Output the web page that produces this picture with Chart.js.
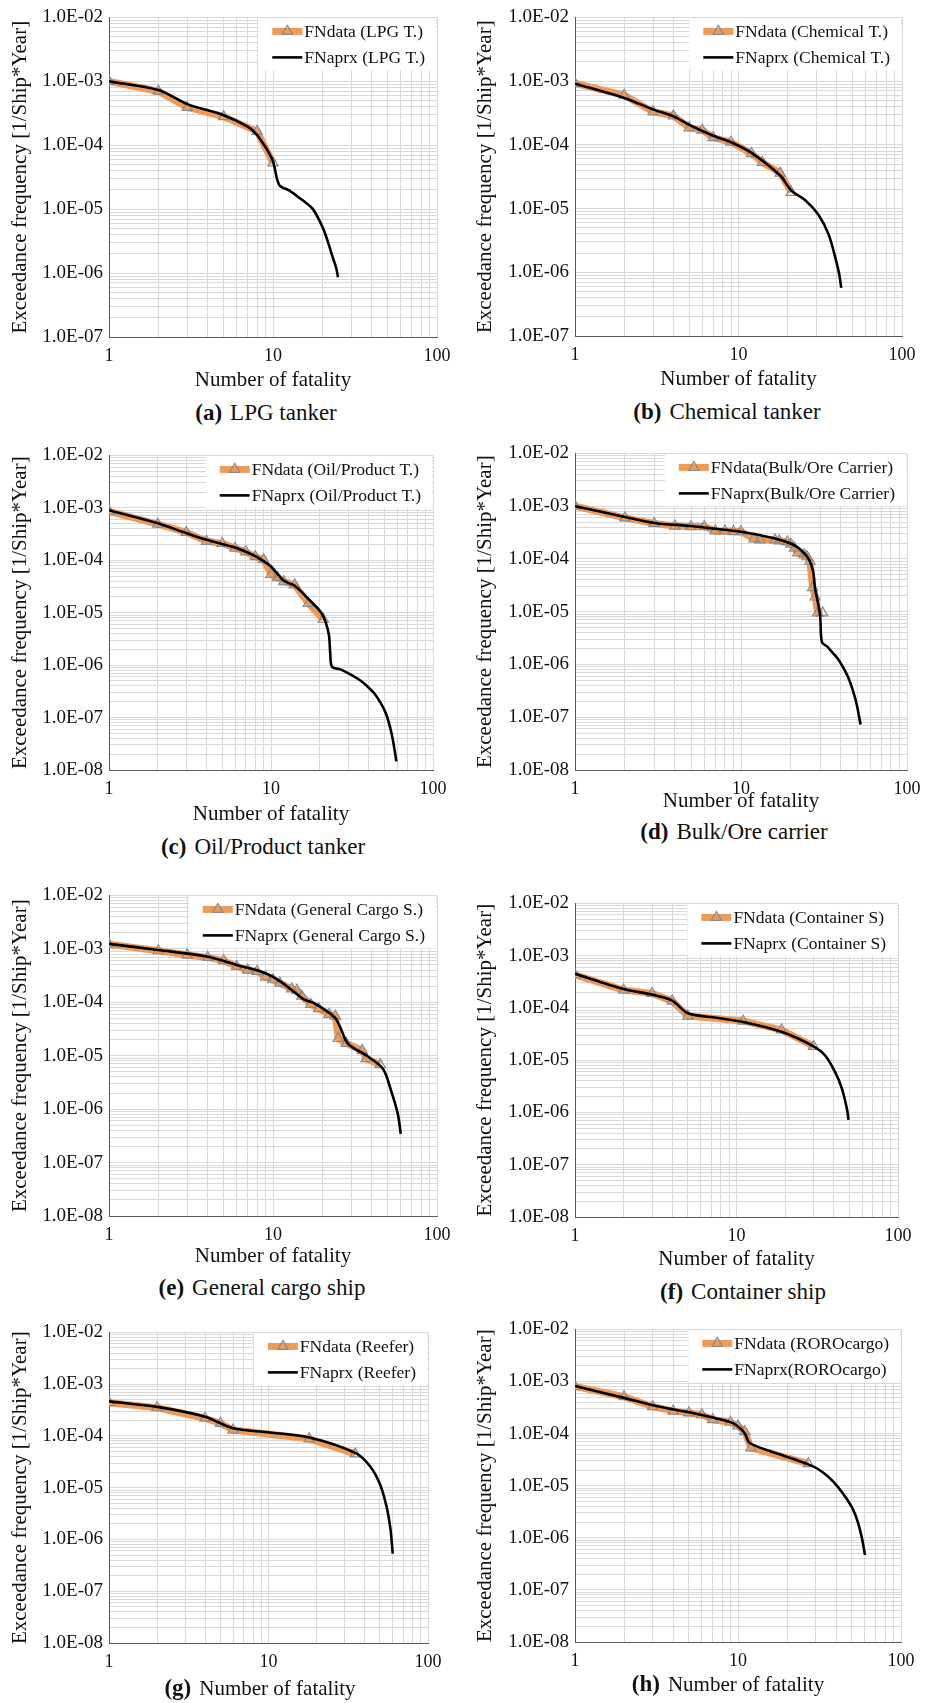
<!DOCTYPE html>
<html>
<head>
<meta charset="utf-8">
<script src="https://cdn.jsdelivr.net/npm/chart.js@4.4.1/dist/chart.umd.min.js"></script>
<style>
  body { margin: 0; background: #fff; }
  #page { position: relative; width: 931px; height: 1703px; overflow: hidden;
          font-family: "Liberation Serif", "Times New Roman", serif; color: #111; }
  #page canvas { position: absolute; }
  .caption { position: absolute; transform: translate(-50%, -50%); white-space: nowrap; font-size: 23px; }
  .caption b { margin-right: 8px; }
  .caption.axis { font-size: 21px; }
  .caption.axis b { font-size: 23px; }
</style>
</head>
<body>
<div id="page"></div>
<script>
const FONT = '"Liberation Serif", "Times New Roman", serif'
const ORANGE = '#EF9A56'

// (a) LPG tanker
const lpgN = [1, 2, 3, 5, 8, 10]
const lpgF = [1.0e-3, 7.0e-4, 3.9e-4, 2.8e-4, 1.65e-4, 5.3e-5]
const lpgAprxN = [1, 2, 3, 5, 7, 8, 9.9, 10.9, 12.6, 14.5, 17.5, 20.2, 21.6, 23.2, 24.3, 24.9]
const lpgAprxF = [1.0e-3, 7.3e-4, 4.4e-4, 2.95e-4, 1.95e-4, 1.45e-4, 6.0e-5, 2.4e-5, 1.95e-5, 1.5e-5, 1.0e-5, 5.0e-6, 3.1e-6, 1.72e-6, 1.2e-6, 8.6e-7]

// (b) Chemical tanker
const chemN = [1, 2, 3, 4, 5, 6, 7, 9, 12, 14, 18, 21]
const chemF = [9.2e-4, 6.0e-4, 3.3e-4, 2.85e-4, 1.85e-4, 1.7e-4, 1.3e-4, 1.1e-4, 7.3e-5, 5.3e-5, 3.6e-5, 1.8e-5]
const chemAprxN = [1, 2, 3, 4, 5, 7, 9, 12, 18, 21, 25.6, 30.9, 35.6, 39.1, 41.3, 42.5]
const chemAprxF = [9.1e-4, 5.45e-4, 3.6e-4, 2.8e-4, 2.06e-4, 1.39e-4, 1.1e-4, 7.5e-5, 3.3e-5, 1.92e-5, 1.35e-5, 7.9e-6, 3.9e-6, 1.7e-6, 9.3e-7, 5.7e-7]

// (c) Oil/Product tanker
const oilN = [1, 2, 3, 4, 5, 6, 7, 8, 9, 10, 11, 12, 14, 17, 21]
const oilF = [8.6e-4, 4.9e-4, 3.4e-4, 2.3e-4, 2.1e-4, 1.7e-4, 1.45e-4, 1.17e-4, 1.03e-4, 5.4e-5, 4.7e-5, 3.9e-5, 3.4e-5, 1.5e-5, 7.5e-6]
const oilAprxN = [1, 2, 3, 4, 6, 8, 9, 10, 12, 14, 17, 20.6, 22.7, 23.2, 23.8, 26.8, 30.9, 35.6, 39.1, 43, 47.3, 50.8, 53.3, 55.8, 57.7, 59.4]
const oilAprxF = [9.0e-4, 5.06e-4, 3.3e-4, 2.46e-4, 1.75e-4, 1.2e-4, 9.6e-5, 7.6e-5, 4.06e-5, 3.27e-5, 1.84e-5, 9.6e-6, 4.0e-6, 1.7e-6, 9.3e-7, 8.3e-7, 6.65e-7, 5.1e-7, 4.0e-7, 3.0e-7, 1.95e-7, 1.27e-7, 8.2e-8, 4.6e-8, 2.6e-8, 1.46e-8]

// (d) Bulk/Ore carrier
const bulkN = [1, 2, 3, 4, 5, 6, 7, 8, 9, 10, 12, 13, 16, 17, 19, 20, 21, 22, 24, 25, 26, 27, 28, 29, 31]
const bulkF = [1.0e-3, 6.0e-4, 4.7e-4, 4.2e-4, 4.1e-4, 4.1e-4, 3.4e-4, 3.4e-4, 3.3e-4, 3.3e-4, 2.4e-4, 2.3e-4, 2.3e-4, 2.2e-4, 2.1e-4, 1.9e-4, 1.6e-4, 1.3e-4, 1.2e-4, 1.1e-4, 9.0e-5, 2.85e-5, 1.9e-5, 9.5e-6, 9.5e-6]
const bulkAprxN = [1, 2, 3, 5, 10, 15.8, 20.4, 22.9, 25.7, 27.2, 27.9, 29.9, 30.7, 33.2, 35.7, 38.2, 41, 44, 47.1, 49.8, 52.5]
const bulkAprxF = [1.0e-3, 6.25e-4, 4.8e-4, 4.2e-4, 3.27e-4, 2.46e-4, 1.9e-4, 1.49e-4, 9.7e-5, 5.8e-5, 2.85e-5, 9.0e-6, 2.67e-6, 2.15e-6, 1.66e-6, 1.3e-6, 9.1e-7, 5.9e-7, 3.3e-7, 1.74e-7, 7.3e-8]

// (e) General cargo ship
const genN = [1, 2, 3, 4, 5, 6, 7, 8, 9, 10, 11, 13, 14, 15, 17, 19, 22, 24, 25, 28, 35, 37, 45]
const genF = [1.22e-3, 9.2e-4, 7.65e-4, 6.9e-4, 6.0e-4, 4.7e-4, 4.0e-4, 3.8e-4, 2.96e-4, 2.64e-4, 2.29e-4, 1.78e-4, 1.68e-4, 1.3e-4, 9.1e-5, 7.6e-5, 5.95e-5, 5.5e-5, 2.1e-5, 1.7e-5, 1.25e-5, 8.8e-6, 6.8e-6]
const genAprxN = [1, 2, 4, 6, 9, 11.3, 15.4, 17.6, 23.8, 25.5, 28.7, 37.1, 46.8, 52.7, 57.8, 60.1]
const genAprxF = [1.24e-3, 9.5e-4, 7.1e-4, 5.0e-4, 3.5e-4, 2.36e-4, 1.13e-4, 9.8e-5, 5.2e-5, 3.6e-5, 1.66e-5, 1.01e-5, 5.7e-6, 2.12e-6, 7.9e-7, 3.45e-7]

// (f) Container ship
const contN = [1, 2, 3, 4, 5, 11, 19, 30]
const contF = [4.3e-4, 2.2e-4, 1.9e-4, 1.35e-4, 7.0e-5, 5.6e-5, 3.8e-5, 1.84e-5]
const contAprxN = [1, 2, 3, 4, 5, 7.5, 11, 19, 30, 35.4, 40.8, 44.9, 48.2, 49.4]
const contAprxF = [4.5e-4, 2.3e-4, 1.8e-4, 1.38e-4, 7.9e-5, 6.5e-5, 5.4e-5, 3.5e-5, 1.84e-5, 1.23e-5, 5.9e-6, 2.9e-6, 1.2e-6, 7.2e-7]

// (g) Reefer
const reefN = [1, 2, 4, 5, 6, 18, 35]
const reefF = [4.4e-4, 3.5e-4, 2.2e-4, 1.75e-4, 1.3e-4, 8.8e-5, 4.5e-5]
const reefAprxN = [1, 2, 4, 6, 9.8, 18, 35, 43.3, 50, 55.1, 58.3, 60.1]
const reefAprxF = [4.66e-4, 3.64e-4, 2.35e-4, 1.41e-4, 1.18e-4, 9.35e-5, 4.7e-5, 2.6e-5, 1.17e-5, 4.2e-6, 1.5e-6, 5.3e-7]

// (h) RORO cargo
const roroN = [1, 2, 3, 4, 5, 6, 7, 9, 10, 11, 12, 27]
const roroF = [8.0e-4, 5.1e-4, 3.3e-4, 2.7e-4, 2.5e-4, 2.3e-4, 1.85e-4, 1.65e-4, 1.4e-4, 1.1e-4, 5.3e-5, 2.65e-5]
const roroAprxN = [1, 2, 3, 5, 7, 9, 10, 11, 11.8, 18, 27, 31.1, 35.8, 41.2, 46.4, 51, 54.7, 57.9, 60.1]
const roroAprxF = [8.2e-4, 4.85e-4, 3.5e-4, 2.56e-4, 2.03e-4, 1.66e-4, 1.37e-4, 1.02e-4, 6.6e-5, 4.0e-5, 2.57e-5, 2.07e-5, 1.48e-5, 9.3e-6, 5.6e-6, 3.4e-6, 1.88e-6, 9.1e-7, 4.7e-7]

const panels = [
  {n: lpgN, f: lpgF, an: lpgAprxN, af: lpgAprxF, yMin: 1e-7,
   legend: ['FNdata (LPG T.)', 'FNaprx (LPG T.)'], tag: '(a)', name: 'LPG tanker',
   box: {x: 0, y: 0, w: 465, h: 393, left: 109, padR: 28, xh: 56}, cap: [266, 413]},
  {n: chemN, f: chemF, an: chemAprxN, af: chemAprxF, yMin: 1e-7,
   legend: ['FNdata (Chemical T.)', 'FNaprx (Chemical T.)'], tag: '(b)', name: 'Chemical tanker',
   box: {x: 465, y: 0, w: 466, h: 392, left: 110, padR: 29, xh: 56}, cap: [727, 412]},
  {n: oilN, f: oilF, an: oilAprxN, af: oilAprxF, yMin: 1e-8,
   legend: ['FNdata (Oil/Product T.)', 'FNaprx (Oil/Product T.)'], tag: '(c)', name: 'Oil/Product tanker',
   box: {x: 0, y: 438, w: 465, h: 389, left: 109, padR: 32, xh: 57}, cap: [263, 847]},
  {n: bulkN, f: bulkF, an: bulkAprxN, af: bulkAprxF, yMin: 1e-8,
   legend: ['FNdata(Bulk/Ore Carrier)', 'FNaprx(Bulk/Ore Carrier)'], tag: '(d)', name: 'Bulk/Ore carrier',
   box: {x: 465, y: 436, w: 466, h: 378, left: 110, padR: 24, xh: 44}, cap: [734, 832]},
  {n: genN, f: genF, an: genAprxN, af: genAprxF, yMin: 1e-8,
   legend: ['FNdata (General Cargo S.)', 'FNaprx (General Cargo S.)'], tag: '(e)', name: 'General cargo ship',
   box: {x: 0, y: 878, w: 465, h: 391, left: 109, padR: 28, xh: 53}, cap: [262, 1288]},
  {n: contN, f: contF, an: contAprxN, af: contAprxF, yMin: 1e-8,
   legend: ['FNdata (Container S)', 'FNaprx (Container S)'], tag: '(f)', name: 'Container ship',
   box: {x: 465, y: 886, w: 466, h: 386, left: 110, padR: 33, xh: 55}, cap: [743, 1292]},
  {n: reefN, f: reefF, an: reefAprxN, af: reefAprxF, yMin: 1e-8,
   legend: ['FNdata (Reefer)', 'FNaprx (Reefer)'], tag: '(g)', name: 'Number of fatality', axisCaption: true,
   box: {x: 0, y: 1315, w: 465, h: 385, left: 109, padR: 37, xh: 57}, cap: [260, 1688]},
  {n: roroN, f: roroF, an: roroAprxN, af: roroAprxF, yMin: 1e-8,
   legend: ['FNdata (ROROcargo)', 'FNaprx(ROROcargo)'], tag: '(h)', name: 'Number of fatality', axisCaption: true,
   box: {x: 465, y: 1312, w: 466, h: 384, left: 110, padR: 30, xh: 54}, cap: [728, 1684]}
]

// 1..9 x 10^k steps, for the log grid
function logTicks(min, max) {
  const out = []
  for (let e = Math.round(Math.log10(min)); e < Math.round(Math.log10(max)); e++) {
    for (let m = 1; m < 10; m++) out.push(Number((m * Math.pow(10, e)).toPrecision(2)))
  }
  out.push(max)
  return out
}

function isDecade(v) {
  const l = Math.log10(v)
  return Math.abs(l - Math.round(l)) < 1e-9
}

const pts = (xs, ys) => xs.map((x, i) => ({x: x, y: ys[i]}))

// legend drawn inside the plot, top right, on a white box
const fnLegend = {
  id: 'fnLegend',
  afterDraw(chart) {
    const {ctx, chartArea: area} = chart
    const sets = chart.data.datasets
    ctx.save()
    ctx.font = '17.5px ' + FONT
    const textW = Math.max(...sets.map(d => ctx.measureText(d.label).width))
    const textX = area.right - 12 - textW
    const x0 = textX - 32
    ctx.fillStyle = '#fff'
    ctx.fillRect(x0 - 14, area.top + 1, area.right - x0 + 13, 52)
    sets.forEach((d, i) => {
      const y = area.top + 14 + i * 26
      ctx.strokeStyle = d.borderColor
      ctx.lineWidth = d.borderWidth
      ctx.lineCap = 'butt'
      ctx.beginPath()
      ctx.moveTo(x0, y)
      ctx.lineTo(textX - 2, y)
      ctx.stroke()
      if (d.pointRadius) {
        const cx = (x0 + textX - 2) / 2
        const r = d.pointRadius
        ctx.beginPath()
        for (let k = 0; k < 3; k++) {
          const a = k * 2 * Math.PI / 3
          ctx[k ? 'lineTo' : 'moveTo'](cx + Math.sin(a) * r, y - Math.cos(a) * r)
        }
        ctx.closePath()
        ctx.strokeStyle = d.pointBorderColor
        ctx.lineWidth = d.pointBorderWidth
        ctx.stroke()
      }
      ctx.fillStyle = '#111'
      ctx.textBaseline = 'middle'
      ctx.fillText(d.label, textX, y + 1)
    })
    ctx.restore()
  }
}

function makePanel(p) {
  const page = document.getElementById('page')
  const b = p.box
  const canvas = document.createElement('canvas')
  canvas.width = b.w
  canvas.height = b.h
  canvas.style.left = b.x + 'px'
  canvas.style.top = b.y + 'px'
  page.appendChild(canvas)

  new Chart(canvas, {
    type: 'scatter',
    data: {
      datasets: [{
        label: p.legend[0],
        data: pts(p.n, p.f),
        showLine: true,
        borderColor: ORANGE,
        borderWidth: 7,
        borderJoinStyle: 'round',
        tension: 0,
        pointStyle: 'triangle',
        pointRadius: 6,
        pointBorderWidth: 1.2,
        pointBorderColor: '#8a8a8a',
        pointBackgroundColor: 'rgba(0,0,0,0)',
        order: 2
      }, {
        label: p.legend[1],
        data: pts(p.an, p.af),
        showLine: true,
        borderColor: '#000',
        borderWidth: 2.6,
        borderJoinStyle: 'round',
        pointRadius: 0,
        tension: 0.3,
        order: 1
      }]
    },
    options: {
      responsive: false,
      animation: false,
      devicePixelRatio: 1,
      layout: { padding: { top: 13, right: b.padR, left: 0, bottom: 0 } },
      plugins: { legend: { display: false }, tooltip: { enabled: false } },
      scales: {
        x: {
          type: 'logarithmic',
          min: 1,
          max: 100,
          afterFit: s => { s.height = b.xh },
          afterBuildTicks: s => { s.ticks = logTicks(1, 100).map(v => ({value: v})) },
          grid: { color: '#d9d9d9', lineWidth: 1, drawTicks: false },
          border: { color: '#595959', width: 1 },
          ticks: {
            autoSkip: false, maxRotation: 0, padding: 8, color: '#111',
            font: { family: FONT, size: 18 },
            callback: v => isDecade(v) ? String(Math.round(v)) : ''
          },
          title: {
            display: !p.axisCaption, text: 'Number of fatality', color: '#111',
            font: { family: FONT, size: 21 }, padding: 0
          }
        },
        y: {
          type: 'logarithmic',
          min: p.yMin,
          max: 1e-2,
          afterFit: s => { s.width = b.left },
          afterBuildTicks: s => { s.ticks = logTicks(p.yMin, 1e-2).map(v => ({value: v})) },
          grid: { color: '#d9d9d9', lineWidth: 1, drawTicks: false },
          border: { color: '#595959', width: 1 },
          ticks: {
            autoSkip: false, padding: 6, color: '#111',
            font: { family: FONT, size: 19 },
            callback: v => isDecade(v) ? '1.0E-' + String(-Math.round(Math.log10(v))).padStart(2, '0') : ''
          },
          title: {
            display: true, text: 'Exceedance frequency [1/Ship*Year]', color: '#111',
            font: { family: FONT, size: 21 }, padding: { top: 8, bottom: 0 }
          }
        }
      }
    },
    plugins: [fnLegend]
  })

  const cap = document.createElement('div')
  cap.className = p.axisCaption ? 'caption axis' : 'caption'
  cap.style.left = p.cap[0] + 'px'
  cap.style.top = p.cap[1] + 'px'
  const tag = document.createElement('b')
  tag.textContent = p.tag
  cap.appendChild(tag)
  cap.appendChild(document.createTextNode(p.name))
  page.appendChild(cap)
}

panels.forEach(makePanel)
</script>
</body>
</html>
